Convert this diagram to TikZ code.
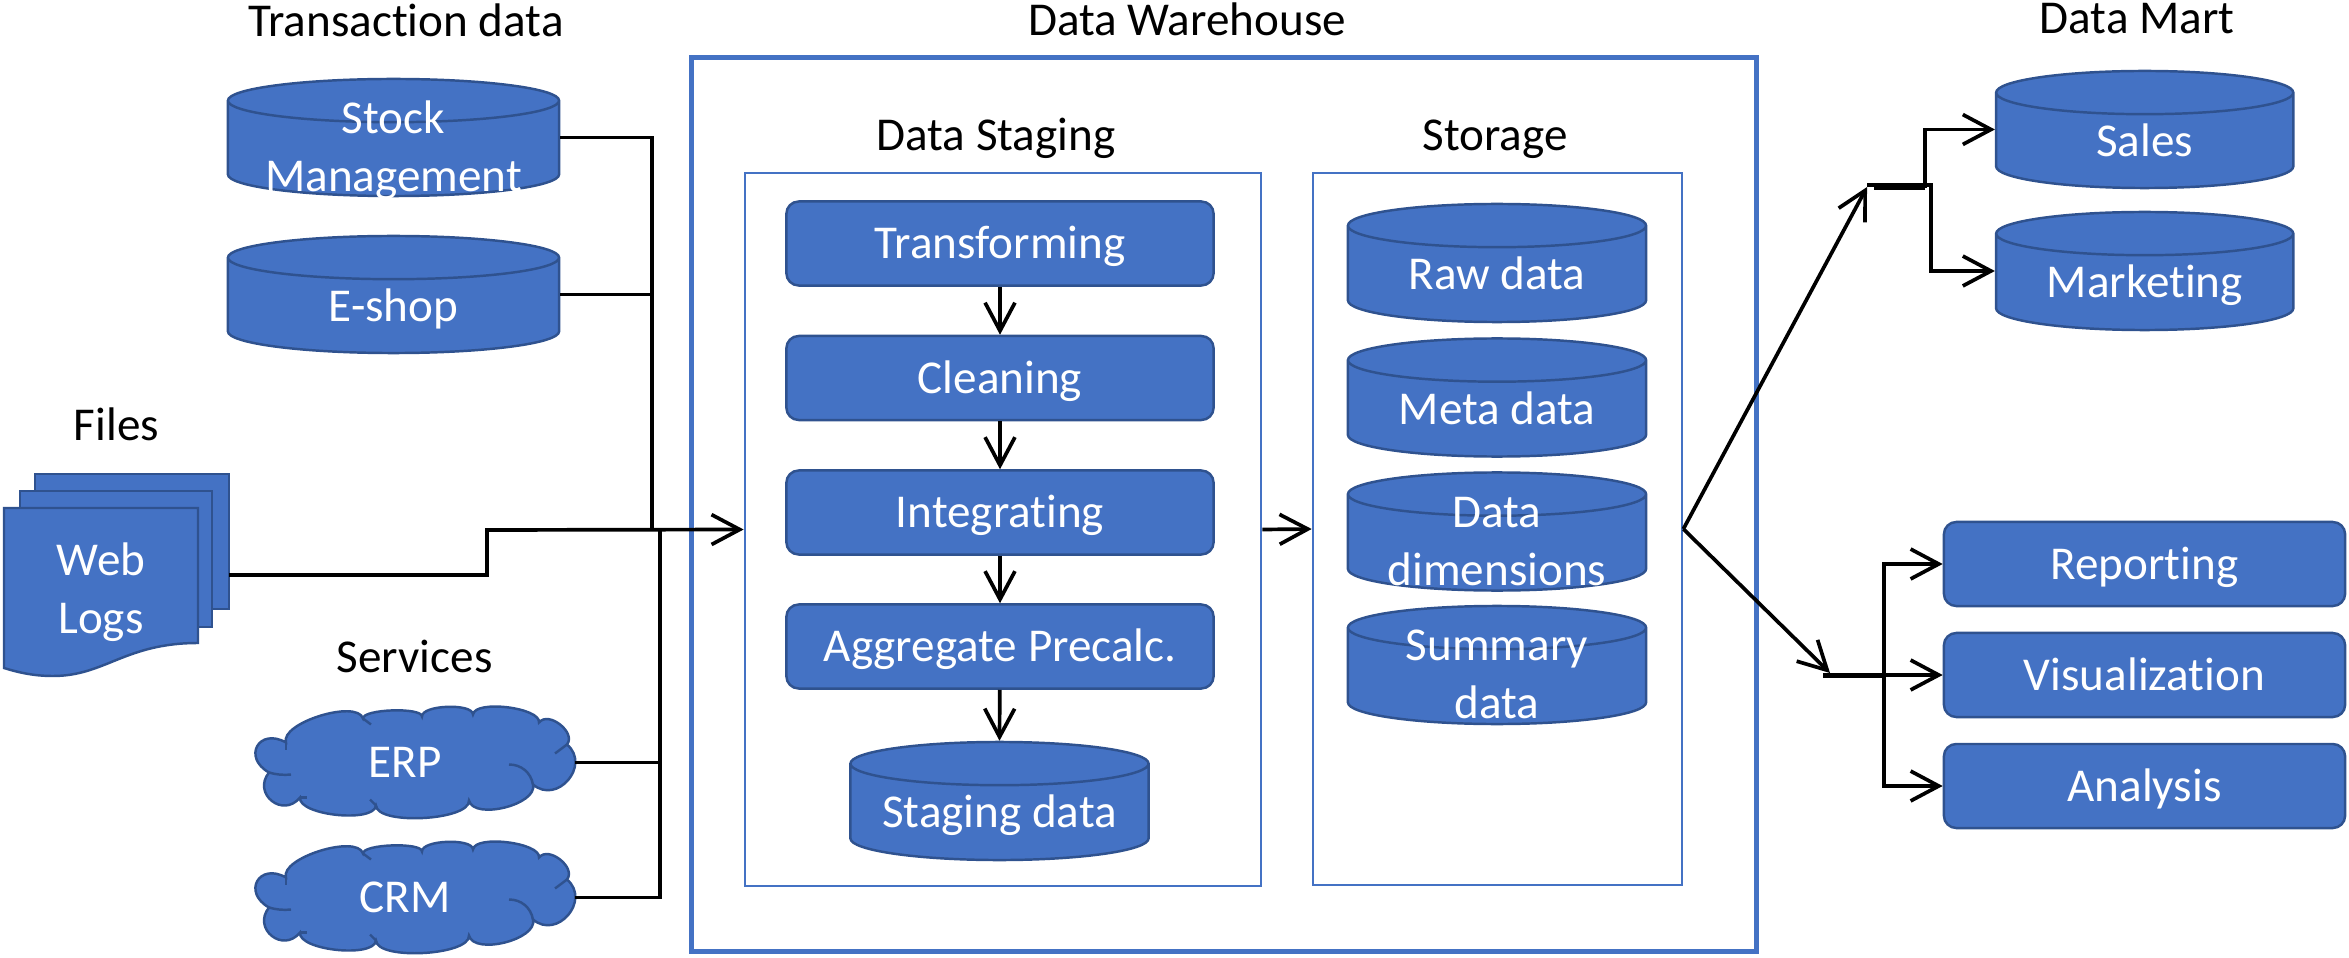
\documentclass[tikz,border=0pt]{standalone}
\usepackage{fontspec}
\setmainfont{Carlito}[Ligatures=NoCommon]
\usepackage{xcolor}
\usepackage{tikz}
\usetikzlibrary{positioning,shapes.geometric,arrows.meta}
\definecolor{boxblue}{HTML}{4472C4}
\definecolor{edgeblue}{HTML}{2F528F}
\newcommand{\stored}[1]{\makebox[1.8cm]{#1}}
\newcommand{\twolines}[2]{\makebox[1.8cm]{\raisebox{-7.7pt}{\begin{tabular}[b]{@{}c@{}}#1\\#2\end{tabular}}}}
\tikzset{
  textfont/.style={font=\fontsize{13.4}{16.5}\selectfont},
  heading/.style={textfont,inner sep=0pt,anchor=base,text=black},
  whitetext/.style={textfont,inner sep=0pt,anchor=base,text=white},
  stepbox/.style={draw=edgeblue,fill=boxblue,line width=0.7pt,rounded corners=3.5pt,textfont,text=white,
    inner sep=0pt,minimum width=4.27cm,minimum height=0.84cm,text height=8.8pt,text depth=0pt},
  reportbox/.style={stepbox,minimum width=4.01cm},
  store/.style={cylinder,shape border rotate=90,aspect=0.24,draw=edgeblue,fill=boxblue,line width=0.7pt,
    textfont,text=white,inner sep=0pt,anchor=shape center,text height=8.8pt,text depth=0pt},
  smallstore/.style={store,minimum width=2.98cm,minimum height=1.18cm},
  bigstore/.style={store,minimum width=3.31cm,minimum height=1.17cm},
  cloudtext/.style={textfont,text=white,inner sep=0pt,minimum width=3.2cm,minimum height=1.11cm,text height=8.8pt,text depth=0pt},
  sheet/.style={draw=edgeblue,fill=boxblue,line width=0.7pt,inner sep=0pt},
  outerbox/.style={draw=boxblue,line width=1.4pt,inner sep=0pt},
  innerbox/.style={draw=boxblue,line width=0.7pt,inner sep=0pt},
  link/.style={draw=black,line width=1.05pt},
  linkto/.style={link,-{Straight Barb[length=8pt,width=8.5pt,line width=1.05pt]}},
  puff/.style={bend left=90,looseness=#1},
  cloudpic/.pic={
    \draw[sheet] (-129,-20) to[puff=0.65] (-52,-44) to[puff=0.41] (7,-46) to[puff=0.58] (58,-48) to[puff=0.58] (124,-40)
      to[puff=1.1] (152,-18) to[puff=1.55] (118,22) to[puff=0.8] (54,38) to[puff=0.55] (-39,43) to[puff=0.6] (-115,35)
      to[puff=1.75] (-146,10) to[puff=2.3] cycle;
    \draw[sheet,fill=none] (94,2) to[bend left=40] (118,22);
    \draw[sheet,fill=none] (-146,10) to[bend right=10] (-124,12);
    \draw[sheet,fill=none] (-129,-20) -- (-129,-13);
    \draw[sheet,fill=none] (-52,-44) -- (-44,-38);
    \draw[sheet,fill=none] (152,-18) -- (140,-9);
    \draw[sheet,fill=none] (-39,43) -- (-45,37);
    \draw[sheet,fill=none] (-115,35) -- (-108,35);
  },
}
\begin{document}
\begin{tikzpicture}[x=0.01cm,y=-0.01cm]
  \useasboundingbox (0,0) rectangle (2349,958);

  % headings
  \node[heading](transactionhead) at (406,37){Transaction data};
  \node[heading](fileshead) at (116.5,440){Files};
  \node[heading](serviceshead) at (414.5,672){Services};
  \node[heading](warehousehead) at (1187,36){Data Warehouse};
  \node[heading](staginghead) at (996,151){Data Staging};
  \node[heading](storagehead) at (1495,151){Storage};
  \node[heading](marthead) at (2137,34){Data Mart};

  % frames
  \node[outerbox,minimum width=10.64cm,minimum height=8.93cm](warehouse) at (1224,504.5){};
  \node[innerbox,minimum width=5.16cm,minimum height=7.13cm](staging) at (1003,529.5){};
  \node[innerbox,minimum width=3.69cm,minimum height=7.12cm](storage) at (1497.5,529){};

  % sources
  \node[bigstore](stock) at (393.5,137.5){\twolines{Stock}{Management}};
  \node[bigstore](eshop) at (393.5,294.5){\stored{E-shop}};
  \node[sheet,minimum width=1.94cm,minimum height=1.35cm](sheetback) at (132,541.5){};
  \node[sheet,minimum width=1.92cm,minimum height=1.36cm](sheetmid) at (116,559){};
  \draw[sheet] (4,508) -- (198,508) -- (198,643) .. controls (125,643) and (105,676) .. (53,676)
    .. controls (35,676) and (20,673) .. (4,668) -- cycle;
  \node[whitetext](web) at (101,575){Web};
  \node[whitetext](logs) at (101,633){Logs};
  \coordinate (logsout) at (229,575);
  \pic at (415,762.5) {cloudpic};
  \pic at (415,897.5) {cloudpic};
  \node[cloudtext](erp) at (405,762.5){ERP};
  \node[cloudtext](crm) at (405,897.5){CRM};
  \coordinate (erpout) at (575,762.5);
  \coordinate (crmout) at (575,897.5);

  % staging steps
  \node[stepbox](transforming) at (1000,243.5){Transforming};
  \node[stepbox](cleaning) at (1000,378){Cleaning};
  \node[stepbox](integrating) at (1000,512.5){Integrating};
  \node[stepbox](aggregate) at (1000,646.5){Aggregate Precalc.};
  \node[smallstore](stagingdata) at (999.5,801){\stored{Staging data}};

  % storage
  \node[smallstore](rawdata) at (1497,263){\stored{Raw data}};
  \node[smallstore](metadata) at (1497,397.5){\stored{Meta data}};
  \node[smallstore](dimensions) at (1497,531.5){\twolines{Data}{dimensions}};
  \node[smallstore](summary) at (1497,665){\twolines{Summary}{data}};

  % data mart and outputs
  \node[store,minimum width=2.97cm,minimum height=1.17cm](sales) at (2144.7,129.5){\stored{Sales}};
  \node[store,minimum width=2.97cm,minimum height=1.18cm](marketing) at (2144.7,271){\stored{Marketing}};
  \node[reportbox](reporting) at (2144.5,564){Reporting};
  \node[reportbox](visualization) at (2144.5,675){Visualization};
  \node[reportbox](analysis) at (2144.5,786){Analysis};

  % sources into the warehouse
  \coordinate (transbus) at (652,530);
  \coordinate (servicebus) at (660,530);
  \coordinate (filestep) at (487,530);
  \draw[link] (stock.east |- stock.shape center) -| (transbus);
  \draw[link] (eshop.east |- eshop.shape center) -| (transbus);
  \draw[link] (erpout) -| (servicebus);
  \draw[link] (crmout) -| (servicebus);
  \draw[linkto] (logsout) -| (filestep) -- (staging.west);

  \draw[linkto] (transforming) -- (cleaning);
  \draw[linkto] (cleaning) -- (integrating);
  \draw[linkto] (integrating) -- (aggregate);
  \draw[linkto] (aggregate) -- (stagingdata.north);
  \draw[linkto] (staging.east) -- (storage.west);

  % out to data mart
  \coordinate (martin) at (1867,187);
  \coordinate (martbar) at (1867,185);
  \coordinate (martlow) at (1931,185);
  \coordinate (marttop) at (1874,188);
  \coordinate (martup) at (1925,188);
  \draw[linkto] (storage.east) -- (martin);
  \draw[link] (marttop) -- (martup);
  \draw[linkto] (martup) |- (sales.west |- sales.shape center);
  \draw[linkto] (martbar) -- (martlow) |- (marketing.west |- marketing.shape center);

  % out to reports
  \coordinate (reportin) at (1830,673);
  \coordinate (reportbar) at (1823,675);
  \coordinate (reportstub) at (1823,676);
  \coordinate (reportfork) at (1884,676);
  \draw[linkto] (storage.east) -- (reportin);
  \draw[link] (reportstub) -- (reportfork);
  \draw[linkto] (reportbar) -- (visualization.west);
  \draw[linkto] (reportfork) |- (reporting.west);
  \draw[linkto] (reportfork) |- (analysis.west);
\end{tikzpicture}
\end{document}
